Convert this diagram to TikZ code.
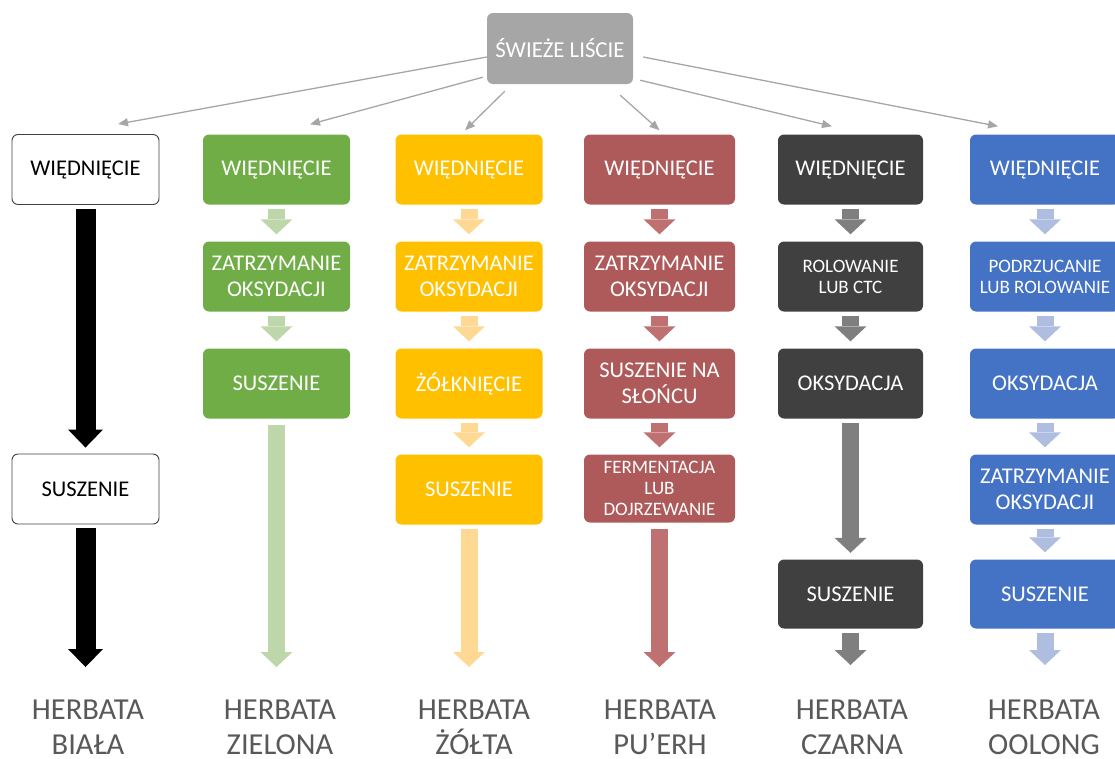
\documentclass[tikz,border=0pt]{standalone}
\usepackage{fontspec}
\setmainfont{Carlito}
\usetikzlibrary{arrows.meta}
\definecolor{cgreen}{HTML}{70AD47}
\definecolor{cgreenl}{HTML}{BDD7AB}
\definecolor{cyel}{HTML}{FFC000}
\definecolor{cyell}{HTML}{FFD993}
\definecolor{cred}{HTML}{AE5A5A}
\definecolor{credl}{HTML}{BF7171}
\definecolor{cdark}{HTML}{404040}
\definecolor{cdarkl}{HTML}{7F7F7F}
\definecolor{cblue}{HTML}{4472C4}
\definecolor{cbluel}{HTML}{AFBDE0}
\definecolor{ctop}{HTML}{A6A6A6}
\definecolor{clab}{HTML}{595959}
\tikzset{
  box/.style={rectangle, rounded corners=6pt, minimum width=147pt, minimum height=70pt,
    inner sep=0pt, align=center, font=\fontsize{22.5}{26.5}\selectfont, text=white},
  smalltext/.style={font=\fontsize{19}{21}\selectfont},
  whitebox/.style={box, draw=cdark, line width=0.9pt, fill=white, text=black},
  barrow/.style={line width=17pt, draw=#1, -{Triangle[width=32pt,length=15pt,line width=0pt]}},
  bigarrow/.style={line width=20pt, draw=#1, -{Triangle[width=35pt,length=18pt,line width=0pt]}},
  conn/.style={line width=1.3pt, draw=ctop, -{Triangle[length=10pt,width=8pt]}},
  lab/.style={align=center, text=clab, font=\fontsize{30.5}{35}\selectfont, inner sep=0pt}
}
\begin{document}
\begin{tikzpicture}[x=1pt,y=-1pt]
\useasboundingbox (0,0) rectangle (1115,758);
\clip (0,0) rectangle (1115,758);

% top
\node[box, fill=ctop, minimum width=146pt, minimum height=71pt, font=\fontsize{22.8}{26}\selectfont] (top) at (560,48.5) {ŚWIEŻE LIŚCIE};

% column 1 (white)
\node[whitebox] (w1) at (85.5,169.5) {WIĘDNIĘCIE};
\node[whitebox] (w2) at (85.5,489) {SUSZENIE};
% column 2 (green)
\node[box, fill=cgreen] (g1) at (276.5,169.5) {WIĘDNIĘCIE};
\node[box, fill=cgreen] (g2) at (276.5,276.5) {ZATRZYMANIE\\OKSYDACJI};
\node[box, fill=cgreen] (g3) at (276.5,383.5) {SUSZENIE};
% column 3 (yellow)
\node[box, fill=cyel] (y1) at (469,169.5) {WIĘDNIĘCIE};
\node[box, fill=cyel] (y2) at (469,276.5) {ZATRZYMANIE\\OKSYDACJI};
\node[box, fill=cyel] (y3) at (469,383.5) {ŻÓŁKNIĘCIE};
\node[box, fill=cyel] (y4) at (469,489.5) {SUSZENIE};
% column 4 (red)
\node[box, fill=cred, minimum width=151pt] (r1) at (659.5,169.5) {WIĘDNIĘCIE};
\node[box, fill=cred, minimum width=151pt] (r2) at (659.5,276.5) {ZATRZYMANIE\\OKSYDACJI};
\node[box, fill=cred, minimum width=151pt] (r3) at (659.5,383.5) {SUSZENIE NA\\SŁOŃCU};
\node[box, fill=cred, minimum width=151pt, minimum height=68pt, smalltext] (r4) at (659.5,488.5) {FERMENTACJA\\LUB\\DOJRZEWANIE};
% column 5 (dark)
\node[box, fill=cdark, minimum width=145pt] (k1) at (850.5,169.5) {WIĘDNIĘCIE};
\node[box, fill=cdark, minimum width=145pt, smalltext] (k2) at (850.5,276.5) {ROLOWANIE\\LUB CTC};
\node[box, fill=cdark, minimum width=145pt] (k3) at (850.5,383.5) {OKSYDACJA};
\node[box, fill=cdark, minimum width=145pt, minimum height=69pt] (k4) at (850.5,594) {SUSZENIE};
% column 6 (blue)
\node[box, fill=cblue, minimum width=150pt] (b1) at (1045,169.5) {WIĘDNIĘCIE};
\node[box, fill=cblue, minimum width=150pt, smalltext] (b2) at (1045,276.5) {PODRZUCANIE\\LUB ROLOWANIE};
\node[box, fill=cblue, minimum width=150pt] (b3) at (1045,383.5) {OKSYDACJA};
\node[box, fill=cblue, minimum width=150pt] (b4) at (1045,489.5) {ZATRZYMANIE\\OKSYDACJI};
\node[box, fill=cblue, minimum width=150pt, minimum height=69pt] (b5) at (1045,594) {SUSZENIE};

% labels
\node[lab] (l1) at (88,727) {HERBATA\\BIAŁA};
\node[lab] (l2) at (280,727) {HERBATA\\ZIELONA};
\node[lab] (l3) at (474,727) {HERBATA\\ŻÓŁTA};
\node[lab] (l4) at (660,727) {HERBATA\\PU’ERH};
\node[lab] (l5) at (852,727) {HERBATA\\CZARNA};
\node[lab] (l6) at (1044,727) {HERBATA\\OOLONG};

% arrow ends above labels
\coordinate (e1) at (85.5,667);
\coordinate (e2) at (276.5,667);
\coordinate (e3) at (469,667);
\coordinate (e4) at (659.5,667);
\coordinate (e5) at (850.5,665);
\coordinate (e6) at (1045,665);

% connectors from top
\draw[conn] ([yshift=-8.5pt]top.west) -- ([shift={(32.5pt,10pt)}]w1.north);
\draw[conn] ([shift={(-4pt,7pt)}]top.south west) -- ([shift={(33.5pt,10pt)}]g1.north);
\draw[conn] ([shift={(18pt,-7pt)}]top.south west) -- ([shift={(-4pt,4pt)}]y1.north);
\draw[conn] ([shift={(-13pt,-11pt)}]top.south east) -- ([shift={(0pt,4pt)}]r1.north);
\draw[conn] ([shift={(7pt,4pt)}]top.south east) -- ([shift={(-18.5pt,8pt)}]k1.north);
\draw[conn] ([shift={(10pt,-8.5pt)}]top.east) -- ([shift={(-47pt,8pt)}]b1.north);

% column 1 arrows
\draw[bigarrow=black] ([yshift=-4pt]w1.south) -- ([yshift=6pt]w2.north);
\draw[bigarrow=black] ([yshift=-4pt]w2.south) -- (e1);
% column 2
\draw[barrow=cgreenl] ([yshift=-4pt]g1.south) -- ([yshift=7pt]g2.north);
\draw[barrow=cgreenl] ([yshift=-4pt]g2.south) -- ([yshift=7pt]g3.north);
\draw[barrow=cgreenl] ([yshift=-6pt]g3.south) -- (e2);
% column 3
\draw[barrow=cyell] ([yshift=-4pt]y1.south) -- ([yshift=7pt]y2.north);
\draw[barrow=cyell] ([yshift=-4pt]y2.south) -- ([yshift=7pt]y3.north);
\draw[barrow=cyell] ([yshift=-4pt]y3.south) -- ([yshift=7pt]y4.north);
\draw[barrow=cyell] ([yshift=-4pt]y4.south) -- (e3);
% column 4
\draw[barrow=credl] ([yshift=-4pt]r1.south) -- ([yshift=7pt]r2.north);
\draw[barrow=credl] ([yshift=-4pt]r2.south) -- ([yshift=7pt]r3.north);
\draw[barrow=credl] ([yshift=-4pt]r3.south) -- ([yshift=7pt]r4.north);
\draw[barrow=credl] ([yshift=-6pt]r4.south) -- (e4);
% column 5
\draw[barrow=cdarkl] ([yshift=-4pt]k1.south) -- ([yshift=7pt]k2.north);
\draw[barrow=cdarkl] ([yshift=-4pt]k2.south) -- ([yshift=7pt]k3.north);
\draw[barrow=cdarkl] ([yshift=-4.5pt]k3.south) -- ([yshift=6.5pt]k4.north);
\draw[barrow=cdarkl] ([yshift=-4pt]k4.south) -- (e5);
% column 6
\draw[barrow=cbluel] ([yshift=-4pt]b1.south) -- ([yshift=7pt]b2.north);
\draw[barrow=cbluel] ([yshift=-4pt]b2.south) -- ([yshift=7pt]b3.north);
\draw[barrow=cbluel] ([yshift=-4pt]b3.south) -- ([yshift=7pt]b4.north);
\draw[barrow=cbluel] ([yshift=-4pt]b4.south) -- ([yshift=7pt]b5.north);
\draw[barrow=cbluel] ([yshift=-4pt]b5.south) -- (e6);
\end{tikzpicture}
\end{document}
